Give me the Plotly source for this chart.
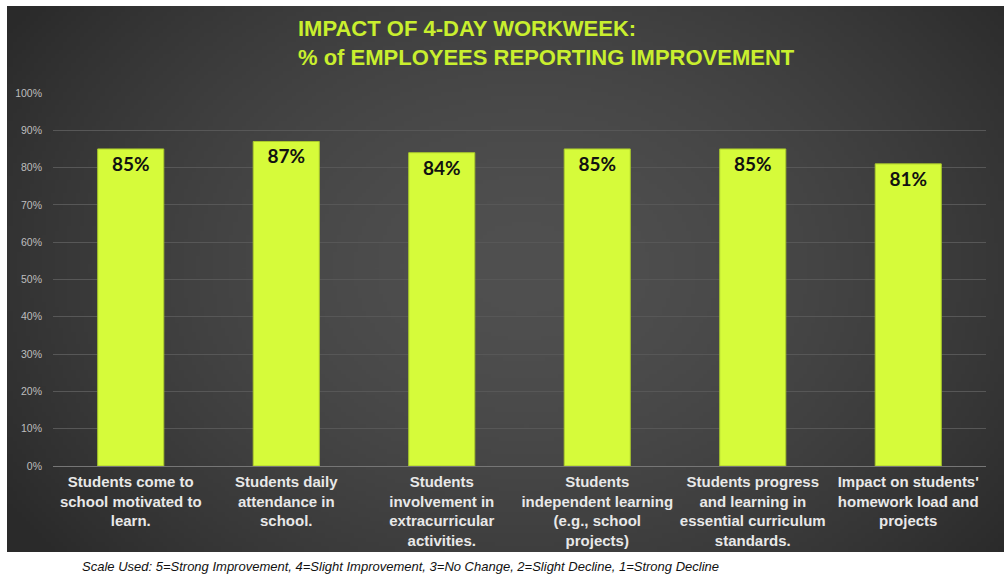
import base64
import struct
import zlib

import numpy as np
import plotly.graph_objects as go

# ---- data ----
categories = [
    "Students come to<br>school motivated to<br>learn.",
    "Students daily<br>attendance in<br>school.",
    "Students<br>involvement in<br>extracurricular<br>activities.",
    "Students<br>independent learning<br>(e.g., school<br>projects)",
    "Students progress<br>and learning in<br>essential curriculum<br>standards.",
    "Impact on students'<br>homework load and<br>projects",
]
values = [0.85, 0.87, 0.84, 0.85, 0.85, 0.81]
value_labels = ["85%", "87%", "84%", "85%", "85%", "81%"]

title_lines = ["IMPACT OF 4-DAY WORKWEEK:", "% of EMPLOYEES REPORTING IMPROVEMENT"]
caption = ("Scale Used: 5=Strong Improvement, 4=Slight Improvement, 3=No Change, "
           "2=Slight Decline, 1=Strong Decline")

W, H = 1004, 574
L, R, T, B = 53, 18, 93, 108          # plot-area margins (px)
PANEL = (7, 6, 1004, 552)             # dark backdrop box (x0, y0, x1, y1) px


def gradient_png(w=240, h=130):
    """Radial dark-grey gradient, lighter toward the middle, as a PNG data URI."""
    yy, xx = np.mgrid[0:h, 0:w]
    u = xx / (w - 1)
    v = yy / (h - 1)
    d = np.sqrt(((u - 0.52) / 0.62) ** 2 + ((v - 0.48) / 0.85) ** 2)
    d = np.clip(d, 0, 1)
    g = 80 - 38 * d ** 1.6
    img = np.clip(g, 0, 255).astype(np.uint8)
    rgb = np.stack([img, img, img], axis=-1)
    raw = b"".join(b"\x00" + row.tobytes() for row in rgb)

    def chunk(tag, data):
        c = struct.pack(">I", len(data)) + tag + data
        return c + struct.pack(">I", zlib.crc32(tag + data) & 0xFFFFFFFF)

    png = (b"\x89PNG\r\n\x1a\n"
           + chunk(b"IHDR", struct.pack(">IIBBBBB", w, h, 8, 2, 0, 0, 0))
           + chunk(b"IDAT", zlib.compress(raw, 9))
           + chunk(b"IEND", b""))
    return "data:image/png;base64," + base64.b64encode(png).decode()


pw, ph = W - L - R, H - T - B


def px_to_paper_x(px):
    return (px - L) / pw


def px_to_paper_y(py):
    return (H - B - py) / ph


fig = go.Figure(
    go.Bar(
        x=categories,
        y=values,
        text=value_labels,
        textposition="inside",
        insidetextanchor="end",
        textangle=0,
        textfont=dict(family="Lato", size=19, color="#111111", weight="bold"),
        marker=dict(color="#D6FB3A", line=dict(color="#A9C92C", width=1)),
        hoverinfo="skip",
    )
)

x0, y0, x1, y1 = PANEL
fig.add_layout_image(
    source=gradient_png(),
    xref="paper", yref="paper",
    x=px_to_paper_x(x0), y=px_to_paper_y(y0),
    sizex=(x1 - x0) / pw, sizey=(y1 - y0) / ph,
    xanchor="left", yanchor="top",
    sizing="stretch", layer="below",
)

fig.add_annotation(
    text="<br>".join(title_lines),
    xref="paper", yref="paper",
    x=px_to_paper_x(296), y=px_to_paper_y(14),
    xanchor="left", yanchor="top", align="left",
    showarrow=False,
    font=dict(family="Liberation Sans", size=22, color="#C9EF2E", weight="bold"),
)

fig.add_annotation(
    text=f"<i>{caption}</i>",
    xref="paper", yref="paper",
    x=px_to_paper_x(80), y=px_to_paper_y(566),
    xanchor="left", yanchor="middle",
    showarrow=False,
    font=dict(family="Liberation Sans", size=13, color="#111111"),
)

fig.update_layout(
    width=W, height=H,
    margin=dict(l=L, r=R, t=T, b=B),
    paper_bgcolor="white",
    plot_bgcolor="rgba(0,0,0,0)",
    bargap=0.575,
    showlegend=False,
    xaxis=dict(
        showgrid=False, ticks="", showline=False,
        tickfont=dict(family="Liberation Sans", size=15, color="#E8E8E8", weight="bold"),
        tickangle=0, fixedrange=True, ticklabelstandoff=5,
    ),
    yaxis=dict(
        range=[0, 1], dtick=0.1, tickformat=".0%",
        showgrid=True, gridcolor="#575757", gridwidth=1,
        zeroline=True, zerolinecolor="#767676", zerolinewidth=1,
        tickfont=dict(family="Liberation Sans", size=10.5, color="#BEBEBE"),
        ticks="", ticklabelstandoff=10, fixedrange=True,
    ),
)

fig.write_html("out.html")
